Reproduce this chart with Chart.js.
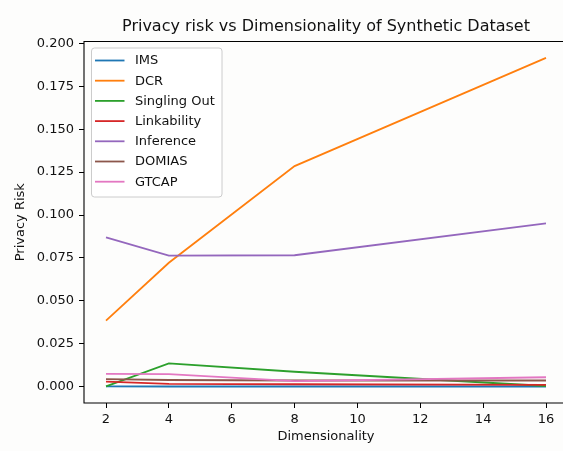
<!DOCTYPE html>
<html>
<head>
<meta charset="utf-8">
<script src="https://cdn.jsdelivr.net/npm/chart.js@4.4.1/dist/chart.umd.min.js"></script>
<style>
  html, body { margin: 0; padding: 0; background: #fdfdfc; overflow: hidden; width: 563px; height: 451px; }
  #wrap { position: absolute; left: 0; top: 0; width: 563px; height: 451px; overflow: hidden; }
  #chart { position: absolute; left: 0; top: 0; }
</style>
</head>
<body>
<div id="wrap"><canvas id="chart" width="580" height="451"></canvas></div>
<script>
// Dimensionality of the synthetic dataset (x values)
const dims = [2, 4, 8, 16];

// Privacy risk per metric
const ims         = [0.0003, 0.0002, 0.0002, 0.0002];
const dcr         = [0.0385, 0.0722, 0.1285, 0.1915];
const singlingOut = [0.0003, 0.0137, 0.0088, 0.0005];
const linkability = [0.0030, 0.0017, 0.0015, 0.0012];
const inference   = [0.0870, 0.0764, 0.0766, 0.0951];
const domias      = [0.0045, 0.0040, 0.0037, 0.0037];
const gtcap       = [0.0076, 0.0074, 0.0033, 0.0056];

const seriesNames = ['IMS', 'DCR', 'Singling Out', 'Linkability', 'Inference', 'DOMIAS', 'GTCAP'];
const seriesValues = [ims, dcr, singlingOut, linkability, inference, domias, gtcap];
const seriesColors = ['#1f77b4', '#ff7f0e', '#2ca02c', '#d62728', '#9467bd', '#8c564b', '#e377c2'];

// Tick labels
const xTicks = [2, 4, 6, 8, 10, 12, 14, 16];
const yTicks = [0, 0.025, 0.05, 0.075, 0.1, 0.125, 0.15, 0.175, 0.2];

const FONT = 'DejaVu Sans';
const TEXT = '#111111';

const datasets = seriesNames.map((name, i) => ({
  label: name,
  data: dims.map((d, k) => ({ x: d, y: seriesValues[i][k] })),
  borderColor: seriesColors[i],
  backgroundColor: seriesColors[i],
  borderWidth: 1.8,
  pointRadius: 0,
  pointHoverRadius: 0,
  tension: 0,
  fill: false,
  order: seriesNames.length - i   // later series are drawn on top
}));

// Frame, title and legend box
const decorations = {
  id: 'decorations',
  beforeDraw(chart) {
    const { ctx, width, height } = chart;
    ctx.save();
    ctx.fillStyle = '#fdfdfc';
    ctx.fillRect(0, 0, width, height);
    ctx.restore();
  },
  afterDatasetsDraw(chart) {
    const { ctx, chartArea: a } = chart;
    ctx.save();
    // axes frame (right side runs past the visible edge)
    ctx.strokeStyle = '#000';
    ctx.lineWidth = 1.1;
    ctx.beginPath();
    ctx.moveTo(a.right + 10, a.top);
    ctx.lineTo(a.left, a.top);
    ctx.lineTo(a.left, a.bottom);
    ctx.lineTo(a.right + 10, a.bottom);
    ctx.stroke();

    // legend
    const bx = 91.5, by = 48, bw = 130.5, bh = 149, r = 3;
    ctx.beginPath();
    ctx.moveTo(bx + r, by);
    ctx.lineTo(bx + bw - r, by);
    ctx.arcTo(bx + bw, by, bx + bw, by + r, r);
    ctx.lineTo(bx + bw, by + bh - r);
    ctx.arcTo(bx + bw, by + bh, bx + bw - r, by + bh, r);
    ctx.lineTo(bx + r, by + bh);
    ctx.arcTo(bx, by + bh, bx, by + bh - r, r);
    ctx.lineTo(bx, by + r);
    ctx.arcTo(bx, by, bx + r, by, r);
    ctx.closePath();
    ctx.fillStyle = 'rgba(255,255,255,0.8)';
    ctx.fill();
    ctx.strokeStyle = '#cccccc';
    ctx.lineWidth = 1;
    ctx.stroke();

    ctx.font = '13px "' + FONT + '"';
    ctx.textBaseline = 'middle';
    ctx.textAlign = 'left';
    chart.data.datasets.forEach((ds, i) => {
      const y = 60.5 + i * 20.2;
      ctx.strokeStyle = ds.borderColor;
      ctx.lineWidth = 1.8;
      ctx.beginPath();
      ctx.moveTo(95, y);
      ctx.lineTo(124.5, y);
      ctx.stroke();
      ctx.fillStyle = TEXT;
      ctx.fillText(ds.label, 135, y + 0.5);
    });

    // title
    ctx.font = '16px "' + FONT + '"';
    ctx.textAlign = 'center';
    ctx.fillStyle = TEXT;
    ctx.fillText('Privacy risk vs Dimensionality of Synthetic Dataset', (a.left + a.right) / 2, 26.5);
    ctx.restore();
  }
};

new Chart(document.getElementById('chart'), {
  type: 'line',
  data: { datasets },
  options: {
    responsive: false,
    animation: false,
    devicePixelRatio: 1,
    layout: { padding: { top: 41.5, right: 12, left: 0, bottom: 0 } },
    plugins: {
      legend: { display: false },
      title: { display: false },
      tooltip: { enabled: false }
    },
    scales: {
      x: {
        type: 'linear',
        min: 1.3,
        max: 16.7,
        afterFit(scale) { scale.height = 48; },
        afterBuildTicks(scale) { scale.ticks = xTicks.map(v => ({ value: v })); },
        border: { display: false },
        grid: { drawOnChartArea: false, drawTicks: true, tickLength: 5, color: '#000', lineWidth: 1 },
        ticks: {
          color: TEXT,
          padding: 4,
          maxRotation: 0,
          autoSkip: false,
          font: { family: FONT, size: 13 },
          callback: v => String(v)
        },
        title: {
          display: true,
          text: 'Dimensionality',
          color: TEXT,
          font: { family: FONT, size: 13 },
          padding: { top: 0, bottom: 6.2 }
        }
      },
      y: {
        type: 'linear',
        min: -0.0094,
        max: 0.201,
        afterFit(scale) { scale.width = 84; },
        afterBuildTicks(scale) { scale.ticks = yTicks.map(v => ({ value: v })); },
        border: { display: false },
        grid: { drawOnChartArea: false, drawTicks: true, tickLength: 5, color: '#000', lineWidth: 1 },
        ticks: {
          color: TEXT,
          padding: 5,
          autoSkip: false,
          font: { family: FONT, size: 13 },
          callback: v => v.toFixed(3)
        },
        title: {
          display: true,
          text: 'Privacy Risk',
          color: TEXT,
          font: { family: FONT, size: 13 },
          padding: { top: 13.2, bottom: 0 }
        }
      }
    }
  },
  plugins: [decorations]
});
</script>
</body>
</html>
